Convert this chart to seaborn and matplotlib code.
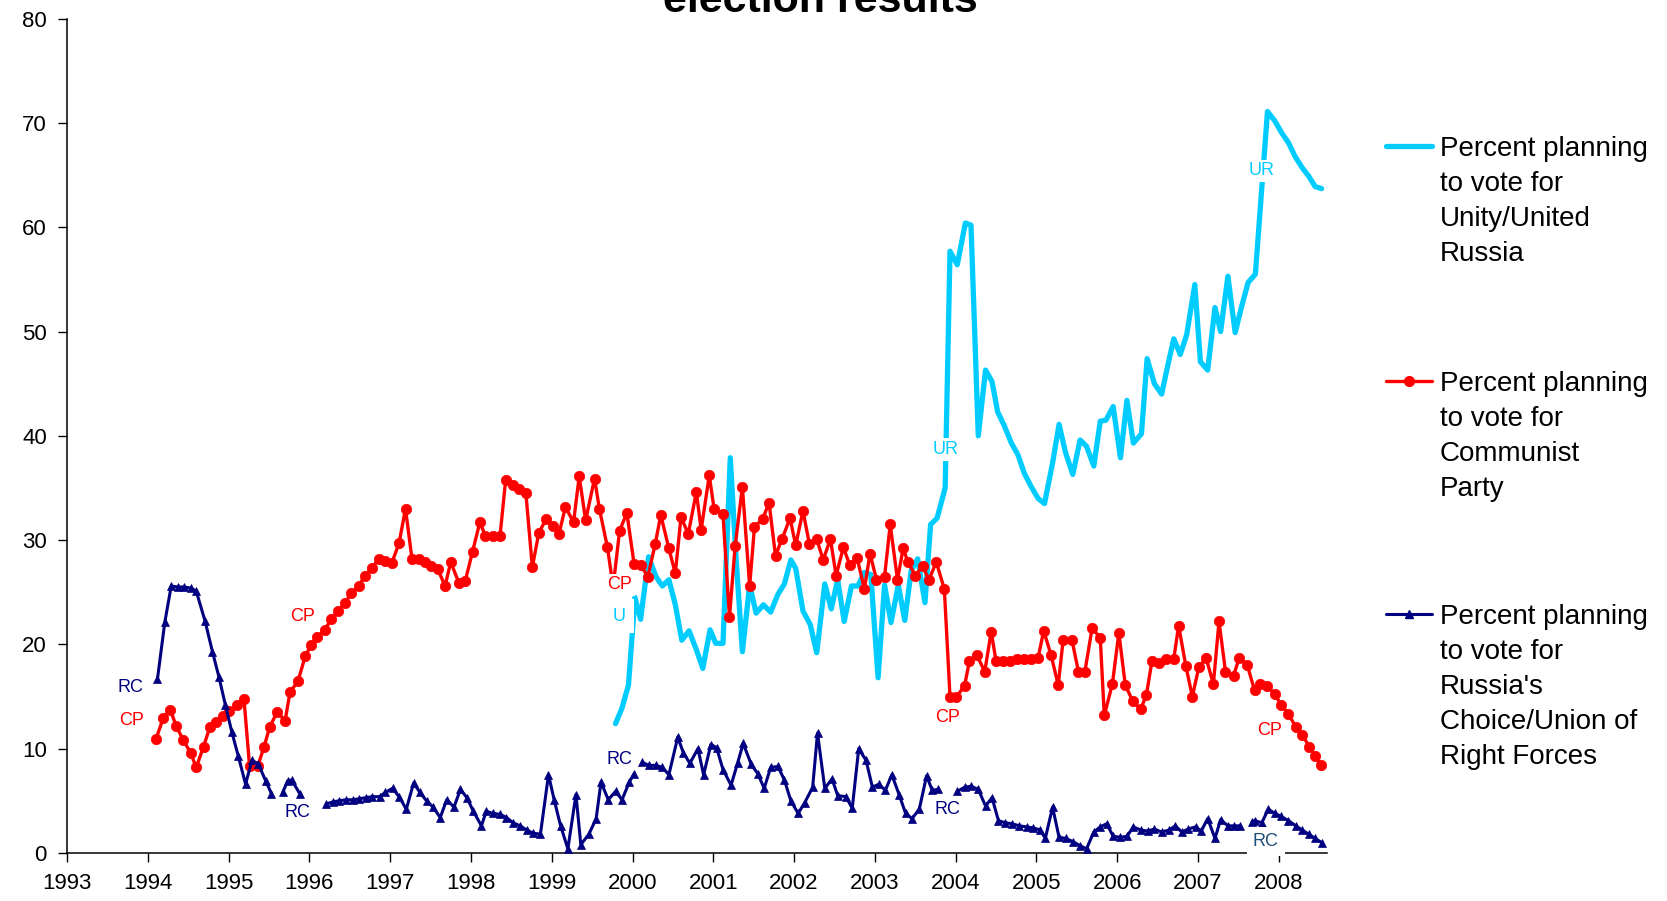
import numpy as np
import pandas as pd
import matplotlib
matplotlib.use("Agg")
import matplotlib.pyplot as plt
from matplotlib.lines import Line2D
import seaborn as sns

NAN = np.nan
CYAN, RED, NAVY, SLATE = "#00CCFF", "#FF0000", "#000080", "#1F4E79"

# Unity / United Russia
ur_years = [1999.79, 1999.87, 1999.95, 2000.03, 2000.10, 2000.20, 2000.29, 2000.37, 2000.45, 2000.53,
            2000.61, 2000.70, 2000.79, 2000.87, 2000.96, 2001.03, 2001.12, 2001.21, 2001.28, 2001.36,
            2001.45, 2001.53, 2001.62, 2001.71, 2001.80, 2001.88, 2001.96, 2002.02, 2002.11, 2002.20,
            2002.28, 2002.38, 2002.46, 2002.54, 2002.62, 2002.71, 2002.79, 2002.87, 2002.95, 2003.04,
            2003.12, 2003.20, 2003.29, 2003.37, 2003.45, 2003.53, 2003.62, 2003.69, 2003.77, 2003.87,
            2003.93, 2004.02, 2004.12, 2004.19, 2004.28, 2004.37, 2004.45, 2004.52, 2004.60, 2004.69,
            2004.77, 2004.85, 2004.93, 2005.02, 2005.10, 2005.20, 2005.28, 2005.36, 2005.45, 2005.54,
            2005.62, 2005.71, 2005.79, 2005.86, 2005.95, 2006.04, 2006.12, 2006.20, 2006.30, 2006.37,
            2006.46, 2006.55, 2006.63, 2006.70, 2006.78, 2006.86, 2006.96, 2007.03, 2007.12, 2007.21,
            2007.28, 2007.37, 2007.46, 2007.54, 2007.62, 2007.71, 2007.86, 2007.95, 2008.04, 2008.12,
            2008.20, 2008.29, 2008.37, 2008.45, 2008.53]
ur_values = [12.4, 13.9, 16.1, 24.5, 22.4, 28.4, 26.5, 25.6, 26.2, 23.8,
             20.4, 21.3, 19.5, 17.7, 21.4, 20.1, 20.1, 37.9, 28.5, 19.3,
             25.7, 23.0, 23.8, 23.1, 24.8, 25.8, 28.1, 27.3, 23.2, 21.9,
             19.2, 25.8, 23.4, 26.2, 22.2, 25.6, 25.6, 26.9, 26.7, 16.8,
             25.7, 22.1, 25.7, 22.3, 27.1, 28.2, 24.0, 31.5, 32.1, 35.0,
             57.7, 56.4, 60.4, 60.2, 40.0, 46.3, 45.2, 42.3, 41.0, 39.3,
             38.2, 36.4, 35.2, 34.0, 33.5, 37.4, 41.1, 38.4, 36.3, 39.6,
             39.0, 37.1, 41.4, 41.5, 42.8, 37.9, 43.4, 39.3, 40.2, 47.4,
             45.0, 44.0, 46.9, 49.3, 47.8, 49.7, 54.5, 47.1, 46.3, 52.3,
             50.0, 55.3, 49.9, 52.4, 54.7, 55.5, 71.1, 70.2, 69.0, 68.1,
             66.8, 65.7, 64.9, 63.9, 63.7]

# Communist Party
cp_years = [1994.10, 1994.19, 1994.28, 1994.35, 1994.44, 1994.53, 1994.60, 1994.69, 1994.77, 1994.84,
            1994.93, 1995.01, 1995.10, 1995.19, 1995.26, 1995.36, 1995.44, 1995.51, 1995.60, 1995.70,
            1995.76, 1995.86, 1995.95, 1996.02, 1996.10, 1996.19, 1996.27, 1996.36, 1996.44, 1996.52,
            1996.61, 1996.69, 1996.77, 1996.86, 1996.94, 1997.02, 1997.11, 1997.19, 1997.27, 1997.36,
            1997.43, 1997.51, 1997.59, 1997.68, 1997.75, 1997.85, 1997.93, 1998.02, 1998.11, 1998.18,
            1998.27, 1998.36, 1998.43, 1998.52, 1998.60, 1998.68, 1998.76, 1998.84, 1998.93, 1999.01,
            1999.09, 1999.17, 1999.27, 1999.34, 1999.42, 1999.53, 1999.59, 1999.69, 1999.76, 1999.84,
            1999.93, 2000.02, 2000.10, 2000.19, 2000.28, 2000.35, 2000.45, 2000.53, 2000.60, 2000.69,
            2000.79, 2000.85, 2000.95, 2001.01, 2001.12, 2001.20, 2001.27, 2001.36, 2001.45, 2001.51,
            2001.61, 2001.69, 2001.77, 2001.85, 2001.95, 2002.02, 2002.11, 2002.19, 2002.28, 2002.36,
            2002.45, 2002.52, 2002.61, 2002.69, 2002.78, 2002.87, 2002.94, 2003.02, 2003.12, 2003.19,
            2003.28, 2003.35, 2003.41, 2003.50, 2003.59, 2003.67, 2003.76, 2003.86, 2003.93, 2004.01,
            2004.11, 2004.17, 2004.26, 2004.36, 2004.44, 2004.50, 2004.59, 2004.67, 2004.76, 2004.84,
            2004.93, 2005.02, 2005.09, 2005.18, 2005.27, 2005.33, 2005.44, 2005.52, 2005.60, 2005.69,
            2005.79, 2005.84, 2005.94, 2006.02, 2006.10, 2006.19, 2006.29, 2006.36, 2006.43, 2006.52,
            2006.60, 2006.70, 2006.76, 2006.85, 2006.93, 2007.01, 2007.10, 2007.19, 2007.26, 2007.34,
            2007.44, 2007.51, 2007.61, 2007.70, 2007.77, 2007.86, 2007.95, 2008.03, 2008.12, 2008.21,
            2008.29, 2008.38, 2008.45, 2008.52]
cp_values = [10.9, 12.9, 13.7, 12.2, 10.8, 9.6, 8.2, 10.2, 12.1, 12.6,
             13.1, 13.6, 14.2, 14.8, 8.3, 8.3, 10.2, 12.1, 13.5, 12.7,
             15.4, 16.5, 18.9, 19.9, 20.7, 21.4, 22.4, 23.2, 24.0, 24.9,
             25.6, 26.6, 27.3, 28.2, 28.0, 27.8, 29.7, 33.0, 28.2, 28.2,
             27.9, 27.5, 27.2, 25.6, 27.9, 25.9, 26.1, 28.9, 31.7, 30.4,
             30.4, 30.4, 35.8, 35.3, 34.9, 34.5, 27.4, 30.7, 32.0, 31.4,
             30.6, 33.2, 31.7, 36.1, 31.9, 35.9, 33.0, 29.3, 25.5, 30.9,
             32.6, 27.7, 27.6, 26.5, 29.6, 32.4, 29.2, 26.8, 32.2, 30.6,
             34.6, 31.0, 36.2, 33.0, 32.5, 22.6, 29.4, 35.1, 25.6, 31.3,
             32.0, 33.6, 28.5, 30.1, 32.1, 29.5, 32.8, 29.6, 30.1, 28.1,
             30.1, 26.6, 29.3, 27.6, 28.3, 25.3, 28.7, 26.2, 26.5, 31.5,
             26.2, 29.2, 27.9, 26.6, 27.5, 26.2, 27.9, 25.3, 15.0, 15.0,
             16.0, 18.4, 19.0, 17.4, 21.2, 18.4, 18.4, 18.4, 18.6, 18.6,
             18.6, 18.7, 21.3, 19.0, 16.1, 20.4, 20.4, 17.4, 17.4, 21.6,
             20.6, 13.2, 16.2, 21.1, 16.1, 14.6, 13.8, 15.1, 18.4, 18.2,
             18.6, 18.6, 21.8, 17.9, 15.0, 17.8, 18.7, 16.2, 22.2, 17.4,
             17.0, 18.7, 18.0, 15.6, 16.2, 16.0, 15.2, 14.2, 13.3, 12.1,
             11.3, 10.2, 9.3, 8.4]

# Russia's Choice / Union of Right Forces (NaN = gap in the series)
rc_years = [1994.12, 1994.21, 1994.29, 1994.37, 1994.45, 1994.53, 1994.60, 1994.71, 1994.80, 1994.88,
            1994.96, 1995.04, 1995.12, 1995.21, 1995.29, 1995.37, 1995.46, 1995.53, NAN, 1995.67,
            1995.73, 1995.78, 1995.88, NAN, 1996.21, 1996.29, 1996.37, 1996.45, 1996.54, 1996.62,
            1996.70, 1996.78, 1996.87, 1996.94, 1997.03, 1997.11, 1997.20, 1997.29, 1997.37, 1997.45,
            1997.53, 1997.62, 1997.70, 1997.79, 1997.87, 1997.95, 1998.03, 1998.13, 1998.19, 1998.27,
            1998.36, 1998.44, 1998.52, 1998.61, 1998.69, 1998.77, 1998.86, 1998.96, 1999.03, 1999.11,
            1999.20, 1999.30, 1999.36, 1999.46, 1999.55, 1999.61, 1999.70, 1999.79, 1999.87, 1999.96,
            2000.02, NAN, 2000.12, 2000.20, 2000.29, 2000.37, 2000.45, 2000.56, 2000.63, 2000.71,
            2000.81, 2000.88, 2000.97, 2001.04, 2001.12, 2001.22, 2001.30, 2001.37, 2001.47, 2001.55,
            2001.63, 2001.71, 2001.80, 2001.88, 2001.96, 2002.05, 2002.13, 2002.23, 2002.29, 2002.38,
            2002.47, 2002.54, 2002.64, 2002.72, 2002.80, 2002.89, 2002.97, 2003.05, 2003.13, 2003.21,
            2003.30, 2003.38, 2003.46, 2003.55, 2003.64, 2003.71, 2003.78, NAN, 2004.02, 2004.11,
            2004.19, 2004.28, 2004.37, 2004.45, 2004.53, 2004.61, 2004.70, 2004.79, 2004.88, 2004.96,
            2005.05, 2005.11, 2005.20, 2005.28, 2005.36, 2005.45, 2005.54, 2005.62, 2005.71, 2005.79,
            2005.87, 2005.95, 2006.04, 2006.12, 2006.20, 2006.29, 2006.38, 2006.46, 2006.55, 2006.64,
            2006.72, 2006.80, 2006.88, 2006.97, 2007.04, 2007.12, 2007.21, 2007.28, 2007.37, 2007.44,
            2007.52, NAN, 2007.67, 2007.70, 2007.79, 2007.87, 2007.95, 2008.03, 2008.12, 2008.21,
            2008.29, 2008.37, 2008.45, 2008.53]
rc_values = [16.7, 22.1, 25.6, 25.5, 25.5, 25.4, 25.1, 22.2, 19.3, 16.9,
             14.2, 11.6, 9.3, 6.6, 8.9, 8.5, 6.9, 5.7, NAN, 5.8,
             6.9, 7.0, 5.7, NAN, 4.7, 4.9, 5.0, 5.1, 5.1, 5.2,
             5.3, 5.4, 5.4, 5.8, 6.2, 5.4, 4.2, 6.7, 5.8, 5.0,
             4.4, 3.4, 5.1, 4.4, 6.1, 5.3, 4.0, 2.6, 4.0, 3.8,
             3.7, 3.4, 2.9, 2.6, 2.2, 1.9, 1.8, 7.5, 5.1, 2.6,
             0.4, 5.6, 0.8, 1.8, 3.3, 6.8, 5.1, 5.9, 5.1, 6.8,
             7.6, NAN, 8.7, 8.4, 8.4, 8.2, 7.5, 11.1, 9.6, 8.6,
             10.0, 7.5, 10.4, 10.1, 8.0, 6.5, 8.6, 10.5, 8.5, 7.6,
             6.2, 8.2, 8.3, 7.0, 5.0, 3.8, 4.8, 6.3, 11.5, 6.2,
             7.1, 5.5, 5.4, 4.3, 10.0, 8.9, 6.3, 6.6, 6.0, 7.5,
             5.6, 3.8, 3.3, 4.2, 7.4, 6.0, 6.1, NAN, 5.9, 6.3,
             6.4, 6.1, 4.5, 5.3, 3.1, 2.9, 2.8, 2.6, 2.5, 2.4,
             2.2, 1.4, 4.4, 1.5, 1.4, 1.1, 0.7, 0.4, 2.0, 2.5,
             2.8, 1.6, 1.5, 1.6, 2.5, 2.2, 2.1, 2.3, 2.0, 2.2,
             2.6, 2.0, 2.3, 2.5, 2.1, 3.3, 1.4, 3.2, 2.6, 2.6,
             2.6, NAN, 3.0, 3.1, 2.9, 4.2, 3.8, 3.5, 3.1, 2.6,
             2.2, 1.8, 1.4, 1.0]

# in-chart data labels
label_texts = ["U", "UR", "UR", "CP", "CP", "CP", "CP", "CP", "RC", "RC", "RC", "RC", "RC"]
label_x = [1999.84, 2003.87, 2007.79, 1993.80, 1995.91, 1999.84, 2003.90, 2007.89,
           1993.79, 1995.85, 1999.84, 2003.90, 2007.84]
label_y = [22.7, 38.7, 65.4, 12.7, 22.7, 25.7, 13.0, 11.7, 15.9, 3.9, 9.0, 4.2, 1.1]
label_colors = [CYAN] * 3 + [RED] * 5 + [NAVY] * 4 + [SLATE]
label_pads = [6, 2, 2, 2, 2, 2, 2, 2, 2, 2, 2, 2, 4.5]

legend_labels = [
    ["Percent planning", "to vote for", "Unity/United", "Russia"],
    ["Percent planning", "to vote for", "Communist", "Party"],
    ["Percent planning", "to vote for", "Russia's", "Choice/Union of", "Right Forces"],
]

x_ticks = list(range(1993, 2009))
y_ticks = list(range(0, 81, 10))


def to_frame(years, values):
    df = pd.DataFrame({"year": years, "value": values})
    df["seg"] = df["value"].isna().cumsum()
    return df.dropna()


sns.set_style("ticks")
plt.rcParams["font.family"] = ["Liberation Sans", "DejaVu Sans"]
plt.rcParams["text.color"] = "black"

fig = plt.figure(figsize=(16.67, 9.01), dpi=100)
ax = fig.add_axes([0.0402, 0.0533, 0.756, 0.926])

sns.lineplot(data=to_frame(ur_years, ur_values), x="year", y="value", units="seg",
             estimator=None, sort=False, color=CYAN, linewidth=3.8, ax=ax, legend=False, zorder=2)
sns.lineplot(data=to_frame(cp_years, cp_values), x="year", y="value", units="seg",
             estimator=None, sort=False, color=RED, linewidth=2.4, marker="o", markersize=7.5,
             markeredgecolor=RED, markeredgewidth=0.5, ax=ax, legend=False, zorder=3)
sns.lineplot(data=to_frame(rc_years, rc_values), x="year", y="value", units="seg",
             estimator=None, sort=False, color=NAVY, linewidth=2.2, marker="^", markersize=5.5,
             markeredgecolor=NAVY, markeredgewidth=0.5, ax=ax, legend=False, zorder=4)

for txt, lx, ly, col, pad in zip(label_texts, label_x, label_y, label_colors, label_pads):
    ax.text(lx, ly, txt, color=col, fontsize=13, ha="center", va="center", zorder=10,
            clip_on=False, bbox=dict(facecolor="white", edgecolor="none", pad=pad))

ax.set_xlim(1993, 2008.6)
ax.set_ylim(0, 80)
ax.set_xticks(x_ticks)
ax.set_yticks(y_ticks)
ax.set_xlabel("")
ax.set_ylabel("")
ax.tick_params(axis="both", direction="out", length=6.5, width=1, colors="black",
               labelcolor="black", labelsize=16)
ax.tick_params(axis="y", pad=8)
ax.tick_params(axis="x", pad=8)
sns.despine(ax=ax)
for side in ["left", "bottom"]:
    ax.spines[side].set_color("black")
    ax.spines[side].set_linewidth(1.1)

fig.text(0.492, 1 - 12 / 901, "election results", ha="center", va="baseline",
         fontsize=31, fontweight="bold", color="black")

# legend drawn by hand so the handle sits on the first text line
W, H = 1667, 901
handle_y = [146, 381, 614]
styles = [dict(color=CYAN, lw=3.8, marker=None),
          dict(color=RED, lw=2.4, marker="o"),
          dict(color=NAVY, lw=2.2, marker="^")]
for hy, st, lines in zip(handle_y, styles, legend_labels):
    y = 1 - hy / H
    fig.add_artist(Line2D([1386 / W, 1432 / W], [y, y], transform=fig.transFigure,
                          color=st["color"], lw=st["lw"]))
    if st["marker"]:
        fig.add_artist(Line2D([1409 / W], [y], transform=fig.transFigure, color=st["color"],
                              marker=st["marker"], markersize=7 if st["marker"] == "o" else 5.5))
    for i, line in enumerate(lines):
        base = hy + 35 * i + 10
        fig.text(1440 / W, 1 - base / H, line, fontsize=20, ha="left", va="baseline",
                 color="black")

fig.savefig("out.png", dpi=100)
